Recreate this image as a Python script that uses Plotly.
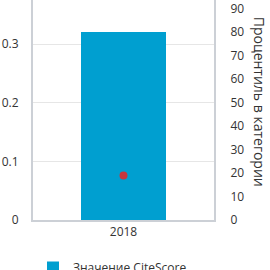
import plotly.graph_objects as go

years = ["2018"]
citescore = [0.32]
percentile = [19]
left_ticks = [0, 0.1, 0.2, 0.3]
right_ticks = [0, 10, 20, 30, 40, 50, 60, 70, 80, 90]

font = "Open Sans"

fig = go.Figure()
fig.add_trace(go.Bar(x=years, y=citescore, name="Значение CiteScore",
                     marker=dict(color="#009fd0", line=dict(width=0)),
                     width=0.475, yaxis="y"))
fig.add_trace(go.Scatter(x=years, y=percentile, mode="markers", showlegend=False,
                         marker=dict(color="#c8363c", size=8), yaxis="y2"))

fig.update_layout(
    width=270, height=270,
    margin=dict(l=33, r=56, t=0, b=50, autoexpand=False),
    paper_bgcolor="white", plot_bgcolor="white",
    font=dict(family=font, size=12, color="#333"),
    xaxis=dict(range=[-0.5, 0.5], showgrid=False, showline=True, linecolor="#ccd0d6",
               linewidth=2, ticks="", tickfont=dict(size=12, color="#333"), fixedrange=True),
    yaxis=dict(range=[0, 0.375], tickvals=left_ticks, ticktext=["0", "0.1", "0.2", "0.3"],
               showgrid=True, gridcolor="#e6e6e6", gridwidth=1, zeroline=False,
               showline=True, linecolor="#ccd0d6", linewidth=2, ticks="",
               ticklabelstandoff=10, tickfont=dict(size=12, color="#333")),
    yaxis2=dict(range=[0, 93.75], tickvals=right_ticks, overlaying="y", side="right",
                showgrid=False, zeroline=False, showline=True, linecolor="#ccd0d6",
                linewidth=2, ticks="", ticklabelstandoff=12,
                tickfont=dict(size=12, color="#333")),
    legend=dict(orientation="h", x=0.0, y=-0.15, xanchor="left", yanchor="top",
                font=dict(size=12, color="#333")),
    showlegend=True,
    bargap=0,
)
fig.add_annotation(text="Процентиль в категории", xref="paper", yref="paper",
                   x=1, y=0.54, xanchor="left", yanchor="middle", xshift=34,
                   textangle=90, showarrow=False, font=dict(size=14, color="#333"))

fig.write_html("out.html")
